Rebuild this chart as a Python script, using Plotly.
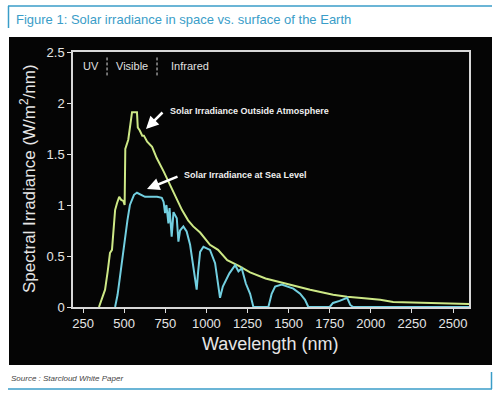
import plotly.graph_objects as go

W, H = 500, 396

# Solar irradiance outside atmosphere (nm, W/m2/nm)
wl_space = [347, 372, 384, 400, 414, 426, 440, 445, 457, 470, 482, 495, 503, 507, 525, 540, 548,
            578, 583, 595, 610, 620, 640, 670, 698, 740, 779, 815, 852, 889, 920, 962, 1022,
            1071, 1127, 1200, 1266, 1360, 1467, 1550, 1631, 1771, 1856, 1960, 2057, 2136,
            2318, 2482, 2597]
irr_space = [0, 0.12, 0.17, 0.35, 0.53, 0.56, 0.8, 0.95, 1.02, 1.08, 1.05, 1.04, 1.0, 1.55, 1.64,
             1.8, 1.91, 1.91, 1.76, 1.73, 1.68, 1.68, 1.62, 1.57, 1.46, 1.33, 1.2, 1.07, 0.95,
             0.85, 0.79, 0.73, 0.61, 0.56, 0.46, 0.4, 0.34, 0.28, 0.235, 0.2, 0.17, 0.12, 0.10,
             0.085, 0.07, 0.05, 0.04, 0.03, 0.03]

# Solar irradiance at sea level
wl_sea = [445, 460, 475, 490, 505, 520, 535, 548, 560, 578, 600, 627, 700, 729, 740, 749, 757,
          769, 776, 789, 800, 820, 830, 840, 860, 880, 901, 920, 941, 950, 962, 982, 1012, 1022,
          1053, 1083, 1100, 1140, 1175, 1195, 1215, 1240, 1266, 1286, 1377, 1397, 1418, 1458,
          1529, 1570, 1600, 1620, 1750, 1770, 1810, 1856, 1875, 1893, 2597]
irr_sea = [0, 0.12, 0.3, 0.5, 0.66, 0.85, 1.0, 1.05, 1.1, 1.12, 1.1, 1.08, 1.08, 1.07, 1.03,
           0.92, 1.0, 0.82, 0.97, 0.69, 0.93, 0.87, 0.64, 0.75, 0.79, 0.74, 0.61, 0.38, 0.17,
           0.35, 0.54, 0.59, 0.57, 0.56, 0.43, 0.09, 0.2, 0.33, 0.41, 0.35, 0.38, 0.23, 0.13, 0,
           0, 0.13, 0.2, 0.22, 0.18, 0.13, 0.07, 0, 0, 0.04, 0.06, 0.09, 0.02, 0, 0]

x_ticks = [250, 500, 750, 1000, 1250, 1500, 1750, 2000, 2250, 2500]
y_ticks = [0, 0.5, 1, 1.5, 2, 2.5]
y_tick_labels = ["0", "0.5", "1", "1.5", "2", "2.5"]

BLUE = "#3a9dc8"
FONT = "Liberation Sans, Arial, sans-serif"


def px(x):
    return x / W


def py(y):
    return 1 - y / H


fig = go.Figure()
fig.add_trace(go.Scatter(x=wl_space, y=irr_space, mode="lines",
                         line=dict(color="#cde886", width=2), hoverinfo="skip"))
fig.add_trace(go.Scatter(x=wl_sea, y=irr_sea, mode="lines",
                         line=dict(color="#72cfe0", width=2), hoverinfo="skip"))

axis_common = dict(showline=True, linecolor="#d8d8d8", linewidth=1.5, mirror=True,
                   ticks="outside", ticklen=4, tickcolor="#e0e0e0", tickwidth=1,
                   showgrid=False, zeroline=False, automargin=False,
                   tickfont=dict(family=FONT, size=13, color="#e6e6e6"))

fig.update_layout(
    template="none",
    width=W, height=H,
    margin=dict(l=0, r=0, t=0, b=0, pad=0, autoexpand=False),
    paper_bgcolor="white",
    plot_bgcolor="#050505",
    showlegend=False,
    xaxis=dict(domain=[px(73), px(469)], range=[189, 2597], tickvals=x_ticks, **axis_common),
    yaxis=dict(domain=[py(307), py(52)], range=[0, 2.5], tickvals=y_ticks,
               ticktext=y_tick_labels, **axis_common),
)

shapes = [
    # black picture background
    dict(type="rect", xref="paper", yref="paper", x0=px(9), x1=px(492), y0=py(365), y1=py(37),
         fillcolor="#050505", line=dict(width=0), layer="below"),
    # top rule and title marker
    dict(type="line", xref="paper", yref="paper", x0=px(8), x1=px(492), y0=py(6), y1=py(6),
         line=dict(color=BLUE, width=1.5)),
    dict(type="line", xref="paper", yref="paper", x0=px(8.5), x1=px(8.5), y0=py(6), y1=py(28),
         line=dict(color=BLUE, width=1.5)),
    # bottom rule
    dict(type="line", xref="paper", yref="paper", x0=px(8), x1=px(492), y0=py(389), y1=py(389),
         line=dict(color=BLUE, width=1.5)),
    dict(type="line", xref="paper", yref="paper", x0=px(491.5), x1=px(491.5), y0=py(389), y1=py(372),
         line=dict(color=BLUE, width=1.5)),
    # region separators
    dict(type="line", xref="x", yref="y", x0=396, x1=396, y0=2.27, y1=2.45,
         line=dict(color="#dddddd", width=1, dash="3px,2px")),
    dict(type="line", xref="x", yref="y", x0=700, x1=700, y0=2.27, y1=2.45,
         line=dict(color="#dddddd", width=1, dash="3px,2px")),
]
fig.update_layout(shapes=shapes)

ann = []
ann.append(dict(xref="paper", yref="paper", x=px(14), y=py(20), xanchor="left", yanchor="middle",
                text="Figure 1: Solar irradiance in space vs. surface of the Earth", showarrow=False,
                font=dict(family=FONT, size=13, color=BLUE)))
ann.append(dict(xref="paper", yref="paper", x=px(9), y=py(378), xanchor="left", yanchor="middle",
                text="<i>Source : Starcloud White Paper</i>", showarrow=False,
                font=dict(family=FONT, size=8, color="#444444")))
ann.append(dict(xref="paper", yref="paper", x=px(28), y=py(179), xanchor="center", yanchor="middle",
                text="Spectral Irradiance (W/m<sup>2</sup>/nm)", textangle=-90, showarrow=False,
                font=dict(family=FONT, size=17, color="#e6e6e6")))
ann.append(dict(xref="paper", yref="paper", x=px(270), y=py(344), xanchor="center", yanchor="middle",
                text="Wavelength (nm)", showarrow=False,
                font=dict(family=FONT, size=18, color="#e6e6e6")))
for label, cx in [("UV", 91), ("Visible", 132), ("Infrared", 190)]:
    ann.append(dict(xref="paper", yref="paper", x=px(cx), y=py(66), xanchor="center",
                    yanchor="middle", text=label, showarrow=False,
                    font=dict(family=FONT, size=11, color="#e0e0e0")))
ann.append(dict(xref="paper", yref="paper", x=px(168), y=py(111), xanchor="left", yanchor="middle",
                text="<b>Solar Irradiance Outside Atmosphere</b>", showarrow=False,
                font=dict(family=FONT, size=9, color="#f0f0f0")))
ann.append(dict(xref="paper", yref="paper", x=px(182), y=py(175), xanchor="left", yanchor="middle",
                text="<b>Solar Irradiance at Sea Level</b>", showarrow=False,
                font=dict(family=FONT, size=9, color="#f0f0f0")))
# arrows
ann.append(dict(xref="paper", yref="paper", x=px(146), y=py(129), ax=18, ay=-18, text="",
                showarrow=True, arrowhead=2, arrowsize=1, arrowwidth=2.5, arrowcolor="white"))
ann.append(dict(xref="paper", yref="paper", x=px(147), y=py(189), ax=32, ay=-13, text="",
                showarrow=True, arrowhead=2, arrowsize=1, arrowwidth=2.5, arrowcolor="white"))
fig.update_layout(annotations=ann)

fig.write_html("out.html", config=dict(displayModeBar=False),
               post_script="document.body.style.margin='0px';document.body.style.overflow='hidden';")
